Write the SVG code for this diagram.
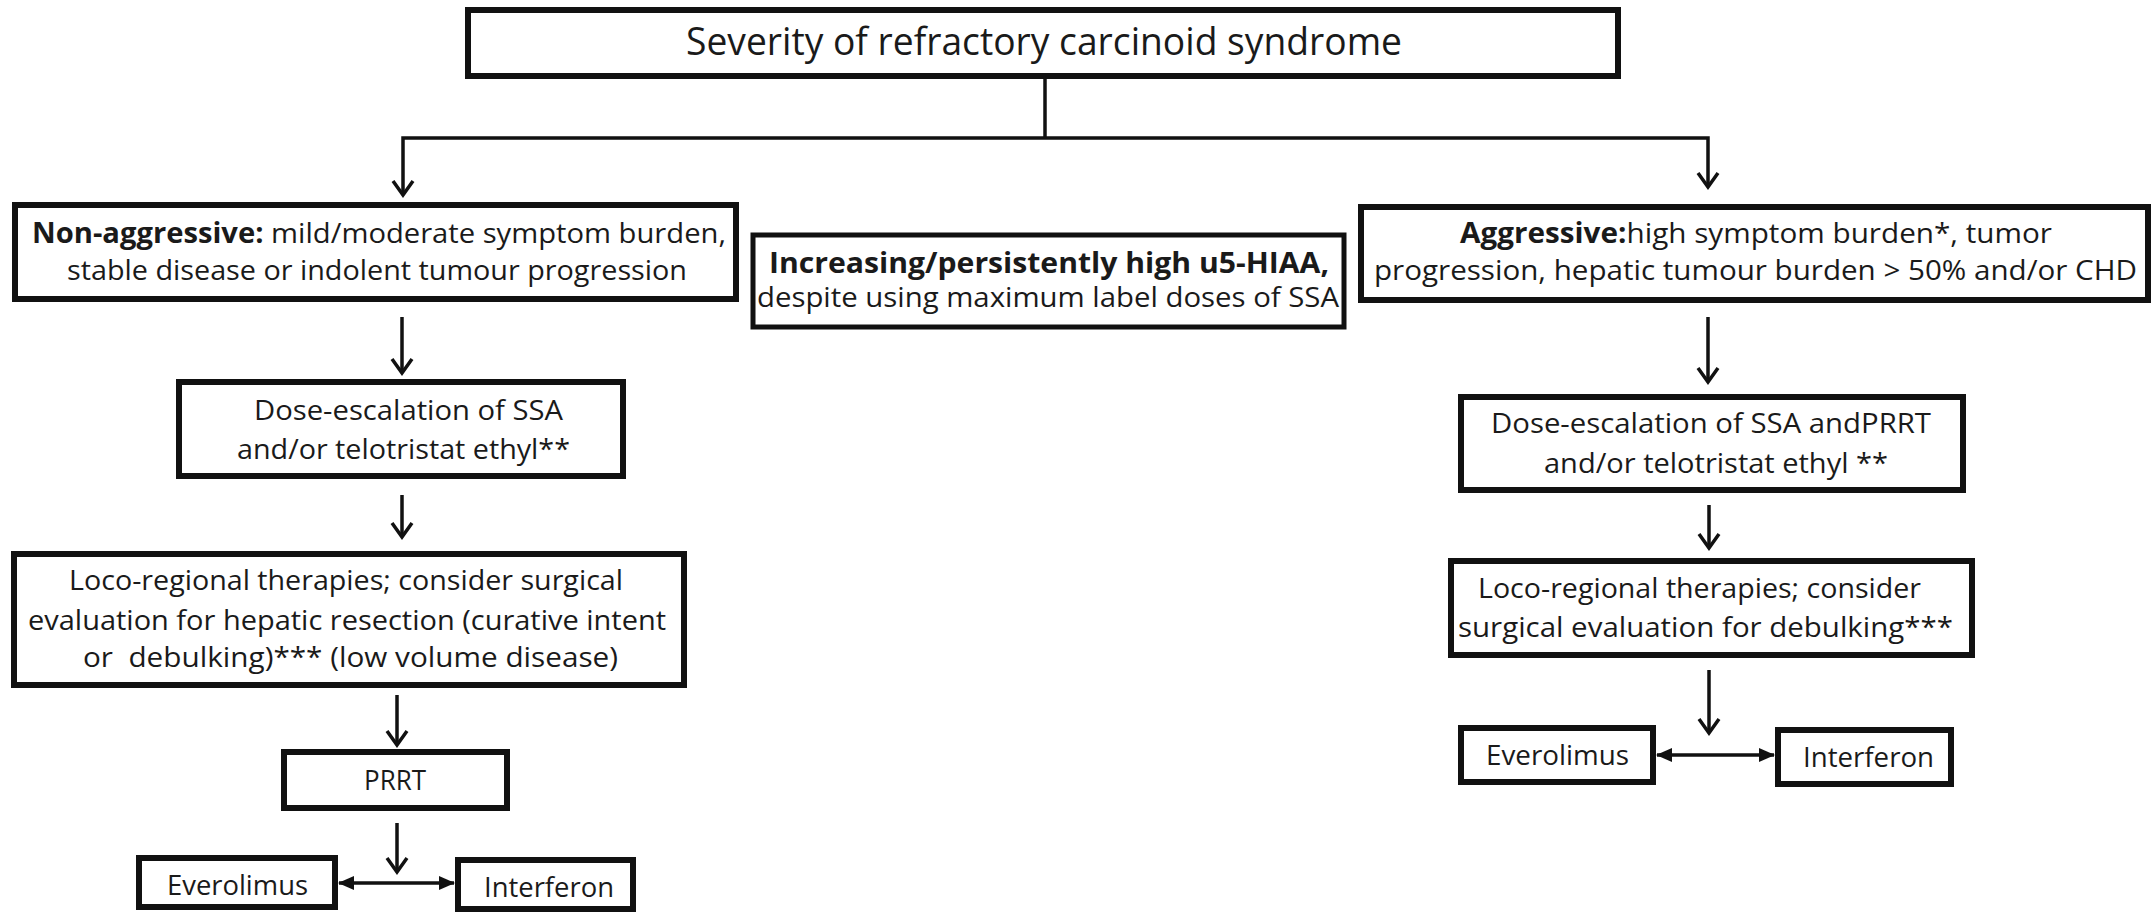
<svg xmlns="http://www.w3.org/2000/svg" width="2153" height="917" viewBox="0 0 2153 917">
<defs>
<style>
.box{fill:#fff;stroke:#111;stroke-width:6}
.t{font-family:"Open Sans","Liberation Sans",sans-serif;font-size:28px;fill:#1a1a1a}
.b{font-weight:bold}
.c{fill:none;stroke:#111;stroke-width:3.5}
</style>
<marker id="ah" markerUnits="userSpaceOnUse" markerWidth="26" markerHeight="26" viewBox="0 0 26 26" refX="23" refY="13" orient="auto">
<path d="M9,3 L23,13 L9,23" fill="none" stroke="#111" stroke-width="3.5"/>
</marker>
<marker id="tri" markerUnits="userSpaceOnUse" markerWidth="16" markerHeight="14" viewBox="0 0 16 14" refX="15" refY="7" orient="auto-start-reverse">
<path d="M0,0 L16,7 L0,14 z" fill="#111"/>
</marker>
</defs>
<rect width="2153" height="917" fill="#fff"/>

<g id="connectors">
<path class="c" d="M1045,79 V138"/>
<path class="c" d="M1045,138 H403 V195" marker-end="url(#ah)"/>
<path class="c" d="M1045,138 H1708 V187" marker-end="url(#ah)"/>
<path class="c" d="M402,317 V373" marker-end="url(#ah)"/>
<path class="c" d="M402,495 V537" marker-end="url(#ah)"/>
<path class="c" d="M397,695 V745" marker-end="url(#ah)"/>
<path class="c" d="M397,823 V872" marker-end="url(#ah)"/>
<path class="c" d="M1708,317 V382" marker-end="url(#ah)"/>
<path class="c" d="M1709,505 V548" marker-end="url(#ah)"/>
<path class="c" d="M1709,670 V733" marker-end="url(#ah)"/>
<path class="c" d="M339,883 H454" marker-start="url(#tri)" marker-end="url(#tri)"/>
<path class="c" d="M1657,755 H1774" marker-start="url(#tri)" marker-end="url(#tri)"/>
</g>

<g id="title">
<rect class="box" x="468" y="10" width="1150" height="66"/>
<text class="t" x="686" y="55" style="font-size:39px" textLength="716" lengthAdjust="spacingAndGlyphs">Severity of refractory carcinoid syndrome</text>
</g>

<g id="non-aggressive">
<rect class="box" x="15" y="205" width="721" height="94"/>
<text class="t" x="32" y="243" textLength="694" lengthAdjust="spacingAndGlyphs"><tspan class="b">Non-aggressive:</tspan> mild/moderate symptom burden,</text>
<text class="t" x="67" y="280" textLength="620" lengthAdjust="spacingAndGlyphs">stable disease or indolent tumour progression</text>
</g>

<g id="u5hiaa">
<rect class="box" x="753" y="235" width="591" height="92" style="stroke-width:5"/>
<text class="t b" x="769" y="273" textLength="560" lengthAdjust="spacingAndGlyphs">Increasing/persistently high u5-HIAA,</text>
<text class="t" x="757" y="307" textLength="582" lengthAdjust="spacingAndGlyphs">despite using maximum label doses of SSA</text>
</g>

<g id="aggressive">
<rect class="box" x="1361" y="207" width="787" height="93"/>
<text class="t" x="1460" y="243" textLength="592" lengthAdjust="spacingAndGlyphs"><tspan class="b">Aggressive:</tspan>high symptom burden*, tumor</text>
<text class="t" x="1374" y="280" textLength="763" lengthAdjust="spacingAndGlyphs">progression, hepatic tumour burden &gt; 50% and/or CHD</text>
</g>

<g id="left-dose">
<rect class="box" x="179" y="382" width="444" height="94"/>
<text class="t" x="254" y="420" textLength="309" lengthAdjust="spacingAndGlyphs">Dose-escalation of SSA</text>
<text class="t" x="237" y="459" textLength="333" lengthAdjust="spacingAndGlyphs">and/or telotristat ethyl**</text>
</g>

<g id="left-loco">
<rect class="box" x="14" y="554" width="670" height="131"/>
<text class="t" x="69" y="590" textLength="554" lengthAdjust="spacingAndGlyphs">Loco-regional therapies; consider surgical</text>
<text class="t" x="28" y="630" textLength="638" lengthAdjust="spacingAndGlyphs">evaluation for hepatic resection (curative intent</text>
<text class="t" x="83" y="667" textLength="535" lengthAdjust="spacingAndGlyphs" xml:space="preserve">or  debulking)*** (low volume disease)</text>
</g>

<g id="left-prrt">
<rect class="box" x="284" y="752" width="223" height="56"/>
<text class="t" x="364" y="790" textLength="62" lengthAdjust="spacingAndGlyphs">PRRT</text>
</g>

<g id="left-everolimus">
<rect class="box" x="139" y="858" width="196" height="49"/>
<text class="t" x="167" y="895" textLength="141" lengthAdjust="spacingAndGlyphs">Everolimus</text>
</g>

<g id="left-interferon">
<rect class="box" x="458" y="860" width="175" height="49"/>
<text class="t" x="484" y="897" textLength="130" lengthAdjust="spacingAndGlyphs">Interferon</text>
</g>

<g id="right-dose">
<rect class="box" x="1461" y="397" width="502" height="93"/>
<text class="t" x="1491" y="433" textLength="440" lengthAdjust="spacingAndGlyphs">Dose-escalation of SSA andPRRT</text>
<text class="t" x="1544" y="473" textLength="344" lengthAdjust="spacingAndGlyphs">and/or telotristat ethyl **</text>
</g>

<g id="right-loco">
<rect class="box" x="1451" y="561" width="521" height="94"/>
<text class="t" x="1478" y="598" textLength="443" lengthAdjust="spacingAndGlyphs">Loco-regional therapies; consider</text>
<text class="t" x="1458" y="637" textLength="495" lengthAdjust="spacingAndGlyphs">surgical evaluation for debulking***</text>
</g>

<g id="right-everolimus">
<rect class="box" x="1461" y="728" width="192" height="54"/>
<text class="t" x="1486" y="765" textLength="143" lengthAdjust="spacingAndGlyphs">Everolimus</text>
</g>

<g id="right-interferon">
<rect class="box" x="1778" y="730" width="173" height="54"/>
<text class="t" x="1803" y="767" textLength="131" lengthAdjust="spacingAndGlyphs">Interferon</text>
</g>
</svg>
